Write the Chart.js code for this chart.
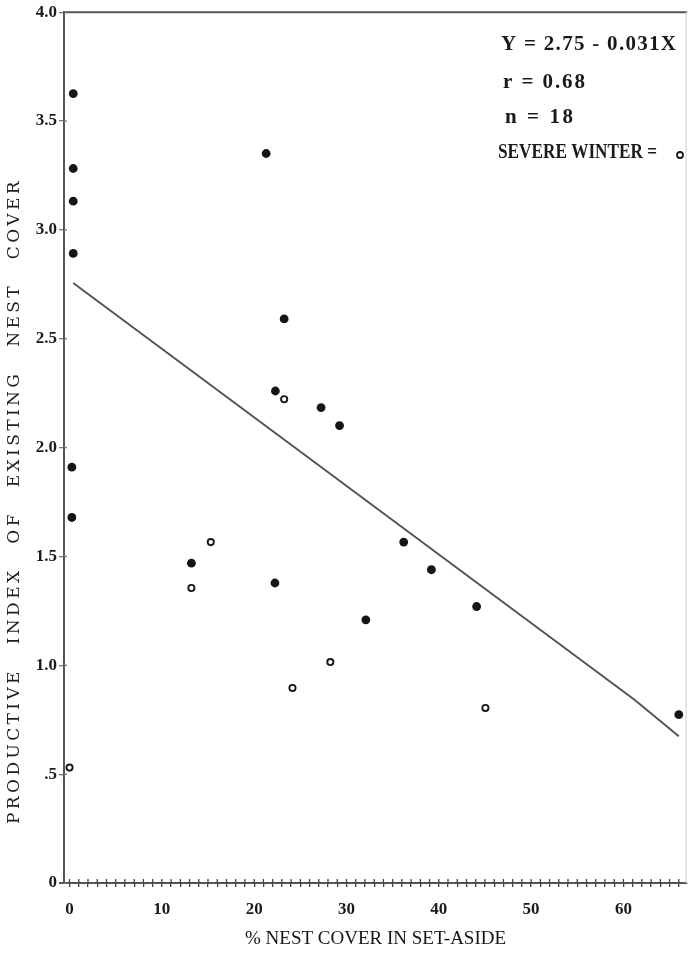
<!DOCTYPE html>
<html><head><meta charset="utf-8">
<script src="https://cdn.jsdelivr.net/npm/chart.js@4.4.1/dist/chart.umd.min.js"></script>
<style>html,body{margin:0;padding:0;background:#fff;}#wrap{width:693px;height:953px;}</style>
</head><body><div id="wrap"><canvas id="c" width="693" height="953"></canvas></div>
<script>
// ---- data ----
const normalX = [0.4, 0.4, 0.4, 0.4, 0.25, 0.25, 21.3, 23.25, 22.3, 27.25, 29.25, 13.2, 22.25, 32.1, 36.2, 39.2, 44.1, 66.0];
const normalY = [3.626, 3.282, 3.132, 2.892, 1.910, 1.679, 3.351, 2.591, 2.260, 2.184, 2.101, 1.469, 1.378, 1.209, 1.566, 1.439, 1.270, 0.773];
const winterX = [0.0, 23.25, 15.3, 13.2, 28.25, 24.15, 45.05];
const winterY = [0.530, 2.222, 1.566, 1.355, 1.015, 0.896, 0.804];
const fitX = [0.4, 61.2, 66.0];
const fitY = [2.756, 0.842, 0.674];
const xTickValues = Array.from({length: 67}, (_, i) => i);
const xLabelValues = [0, 10, 20, 30, 40, 50, 60];
const yTickValues = [0, 0.5, 1, 1.5, 2, 2.5, 3, 3.5, 4];
const yTickLabels = ['0', '.5', '1.0', '1.5', '2.0', '2.5', '3.0', '3.5', '4.0'];
const annotationLines = ['Y = 2.75 - 0.031X', 'r = 0.68', 'n = 18', 'SEVERE WINTER ='];
const xTitle = '% NEST COVER IN SET-ASIDE';
const yTitle = 'PRODUCTIVE INDEX OF EXISTING NEST COVER';

const pts = (xs, ys) => xs.map((x, i) => ({x, y: ys[i]}));
const AX = '#555';

// draw text so that it spans `width`: widen with letter spacing, or condense horizontally
function fitText(ctx, text, x, y, width) {
  ctx.letterSpacing = '0px';
  const w0 = ctx.measureText(text).width;
  if (w0 <= width) {
    const ls = (width - w0) / Math.max(1, text.length - 1);
    ctx.letterSpacing = ls + 'px';
    ctx.fillText(text, x, y);
    ctx.letterSpacing = '0px';
  } else {
    ctx.save();
    ctx.translate(x, y);
    ctx.scale(width / w0, 1);
    ctx.fillText(text, 0, 0);
    ctx.restore();
  }
}

const decor = {
  id: 'decor',
  afterDraw(chart) {
    const {ctx, chartArea: a, scales: {x, y}} = chart;
    ctx.save();
    // frame top & right
    ctx.strokeStyle = AX; ctx.lineWidth = 2;
    ctx.beginPath(); ctx.moveTo(a.left, a.top); ctx.lineTo(a.right, a.top); ctx.stroke();
    ctx.strokeStyle = '#d8d8d8'; ctx.lineWidth = 1.2;
    ctx.beginPath(); ctx.moveTo(a.right - 1, a.top); ctx.lineTo(a.right - 1, a.bottom); ctx.stroke();
    // x axis extends a bit left of the y axis
    ctx.strokeStyle = AX; ctx.lineWidth = 2;
    ctx.beginPath(); ctx.moveTo(a.left - 5, a.bottom); ctx.lineTo(a.left, a.bottom); ctx.stroke();
    // inward halves of the tick crosses
    ctx.strokeStyle = '#444'; ctx.lineWidth = 1.3;
    xTickValues.forEach(v => {
      const px = x.getPixelForValue(v);
      ctx.beginPath(); ctx.moveTo(px, a.bottom); ctx.lineTo(px, a.bottom - 4); ctx.stroke();
    });
    ctx.strokeStyle = '#777';
    yTickValues.forEach(v => {
      const py = y.getPixelForValue(v);
      ctx.beginPath(); ctx.moveTo(a.left, py); ctx.lineTo(a.left + 3, py); ctx.stroke();
    });
    // y axis title (wide letter and word spacing)
    ctx.fillStyle = '#1e1e1e';
    ctx.font = '17px "DejaVu Serif"';
    ctx.translate(15, 501);
    ctx.rotate(-Math.PI / 2);
    ctx.textAlign = 'left'; ctx.textBaseline = 'middle';
    ctx.letterSpacing = '3.4px';
    ctx.wordSpacing = '0px';
    const wl = ctx.measureText(yTitle).width;
    const total = 646;
    ctx.wordSpacing = Math.max(0, (total - wl) / 5) + 'px';
    ctx.fillText(yTitle, -total / 2, 0);
    ctx.restore();

    // annotation block
    ctx.save();
    ctx.fillStyle = '#1a1a1a';
    ctx.textBaseline = 'middle'; ctx.textAlign = 'left';
    const lx = [501, 503, 505, 498];
    const ly = [45, 83, 118, 153];
    const lw = [175, 82, 68, 159];
    annotationLines.forEach((t, i) => {
      ctx.font = 'bold 21px "Liberation Serif"';
      fitText(ctx, t, lx[i], ly[i], lw[i]);
    });
    ctx.beginPath(); ctx.arc(680, 155, 3, 0, Math.PI * 2);
    ctx.lineWidth = 1.8; ctx.strokeStyle = '#1a1a1a'; ctx.stroke();
    ctx.restore();
  }
};

new Chart(document.getElementById('c'), {
  type: 'scatter',
  data: {
    datasets: [
      {type: 'line', data: pts(fitX, fitY), borderColor: '#555', borderWidth: 2, pointRadius: 0, fill: false, tension: 0, order: 3},
      {data: pts(normalX, normalY), pointRadius: 4.4, pointBackgroundColor: '#151515', pointBorderColor: '#151515', pointBorderWidth: 0, order: 1},
      {data: pts(winterX, winterY), pointRadius: 3.1, pointBackgroundColor: '#fff', pointBorderColor: '#1a1a1a', pointBorderWidth: 1.9, order: 2}
    ]
  },
  options: {
    responsive: false, animation: false, devicePixelRatio: 1,
    layout: {padding: {top: 12, right: 0, left: 0, bottom: 0}},
    plugins: {legend: {display: false}, tooltip: {enabled: false}},
    scales: {
      x: {
        type: 'linear', min: -0.6, max: 66.9,
        afterBuildTicks: s => { s.ticks = xTickValues.map(v => ({value: v})); },
        afterFit: s => { s.height = 70; s.paddingLeft = 0; s.paddingRight = 0; },
        ticks: {autoSkip: false, maxRotation: 0, minRotation: 0, padding: 12, color: '#1a1a1a',
          font: {family: '"Liberation Serif"', size: 17, weight: 'bold'},
          callback: v => xLabelValues.includes(v) ? String(v) : ''},
        grid: {drawOnChartArea: false, drawTicks: true, tickLength: 4, color: '#444', lineWidth: 1.3},
        border: {color: AX, width: 2},
        title: {display: true, text: xTitle, color: '#151515', padding: {top: 0, bottom: 3},
          font: {family: '"Liberation Serif"', size: 19}}
      },
      y: {
        type: 'linear', min: 0, max: 4,
        afterBuildTicks: s => { s.ticks = yTickValues.map(v => ({value: v})); },
        afterFit: s => { s.width = 64; },
        ticks: {autoSkip: false, padding: 2, color: '#1a1a1a',
          font: {family: '"Liberation Serif"', size: 17, weight: 'bold'},
          callback: v => yTickLabels[yTickValues.indexOf(v)]},
        grid: {drawOnChartArea: false, drawTicks: true, tickLength: 5, color: '#777', lineWidth: 1.3},
        border: {color: AX, width: 2}
      }
    }
  },
  plugins: [decor]
});
</script></body></html>
